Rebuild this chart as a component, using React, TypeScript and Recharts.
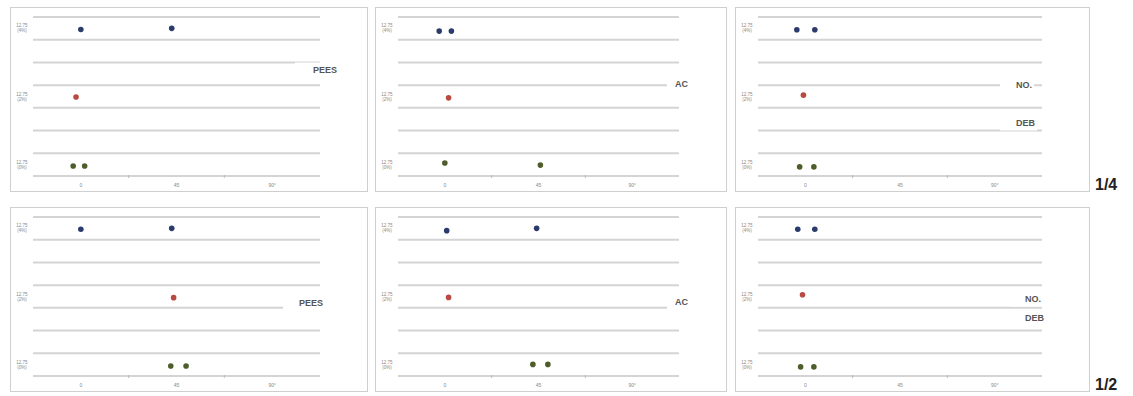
import { ScatterChart, Scatter, XAxis, YAxis, CartesianGrid } from "recharts";

// x: 0..3 (three groups), y: 0..7 (three rows, centred at 0.5 / 3.5 / 6.5)
const xTicks = [0.5, 1, 1.5, 2, 2.5];
const xTickLabels = ["0", "45", "90°"];
const yTicks = [0, 1, 2, 3, 4, 5, 6, 7];
const yTickLabels: Record<number, string[]> = {
  0: ["12.75", "(0%)"],
  3: ["12.75", "(2%)"],
  6: ["12.75", "(4%)"],
};

// 1/4 row
const peesQBlue = [{ x: 0.5, y: 6.45 }, { x: 1.45, y: 6.5 }];
const peesQRed = [{ x: 0.45, y: 3.48 }];
const peesQGreen = [{ x: 0.42, y: 0.44 }, { x: 0.54, y: 0.44 }];

const acQBlue = [{ x: 0.44, y: 6.38 }, { x: 0.57, y: 6.38 }];
const acQRed = [{ x: 0.54, y: 3.44 }];
const acQGreen = [{ x: 0.5, y: 0.57 }, { x: 1.52, y: 0.48 }];

const debQBlue = [{ x: 0.41, y: 6.44 }, { x: 0.6, y: 6.44 }];
const debQRed = [{ x: 0.48, y: 3.56 }];
const debQGreen = [{ x: 0.44, y: 0.4 }, { x: 0.59, y: 0.4 }];

// 1/2 row
const peesHBlue = [{ x: 0.5, y: 6.46 }, { x: 1.45, y: 6.5 }];
const peesHRed = [{ x: 1.47, y: 3.45 }];
const peesHGreen = [{ x: 1.44, y: 0.44 }, { x: 1.6, y: 0.44 }];

const acHBlue = [{ x: 0.52, y: 6.4 }, { x: 1.48, y: 6.5 }];
const acHRed = [{ x: 0.54, y: 3.46 }];
const acHGreen = [{ x: 1.44, y: 0.51 }, { x: 1.6, y: 0.51 }];

const debHBlue = [{ x: 0.42, y: 6.46 }, { x: 0.6, y: 6.46 }];
const debHRed = [{ x: 0.47, y: 3.58 }];
const debHGreen = [{ x: 0.45, y: 0.4 }, { x: 0.59, y: 0.4 }];

const BLUE = "#2b3b6b";
const RED = "#b84a42";
const GREEN = "#4e5e2b";
const GRID = "#d4d4d4";

const CH = 183;
const MT = 9;
const XH = 15;
const halfBand = (CH - MT - XH) / 7 / 2;

const colLeft = [10, 375, 735];
const colWidth = [358, 352, 355];
const rowTop = [7, 207];

const panels = [
  { col: 0, row: 0, blue: peesQBlue, red: peesQRed, green: peesQGreen },
  { col: 1, row: 0, blue: acQBlue, red: acQRed, green: acQGreen },
  { col: 2, row: 0, blue: debQBlue, red: debQRed, green: debQGreen },
  { col: 0, row: 1, blue: peesHBlue, red: peesHRed, green: peesHGreen },
  { col: 1, row: 1, blue: acHBlue, red: acHRed, green: acHGreen },
  { col: 2, row: 1, blue: debHBlue, red: debHRed, green: debHGreen },
];

const sideLabels = [
  { text: "PEES", x: 313, y: 70, pad: 18 },
  { text: "AC", x: 675, y: 84, pad: 8 },
  { text: "NO.", x: 1016, y: 85, pad: 16 },
  { text: "DEB", x: 1016, y: 123, pad: 16 },
  { text: "PEES", x: 299, y: 303, pad: 16 },
  { text: "AC", x: 675, y: 302, pad: 8 },
  { text: "NO.", x: 1025, y: 299, pad: 14 },
  { text: "DEB", x: 1025, y: 318, pad: 14 },
];

const rowLabels = [
  { text: "1/4", x: 1095, y: 185 },
  { text: "1/2", x: 1095, y: 385 },
];

const dot = (color: string) => (p: any) => (
  <circle cx={p.cx} cy={p.cy} r={2.8} fill={color} />
);

const XTick = (p: any) => {
  const v = p.payload.value;
  if (Number.isInteger(v)) {
    return <line x1={p.x} x2={p.x} y1={p.y - 1} y2={p.y + 2} stroke="#bbb" strokeWidth={1} />;
  }
  return (
    <text x={p.x} y={p.y + 11} fontSize={5} fill="#888" textAnchor="middle">
      {xTickLabels[Math.floor(v)]}
    </text>
  );
};

const YTick = (p: any) => {
  const lab = yTickLabels[p.payload.value];
  if (!lab) return <g />;
  const cy = p.y - halfBand;
  return (
    <text x={p.x - 11} y={cy} fontSize={4.5} fill="#888" textAnchor="middle">
      <tspan x={p.x - 11} dy={-1}>{lab[0]}</tspan>
      <tspan x={p.x - 11} dy={5}>{lab[1]}</tspan>
    </text>
  );
};

function Panel({ col, row, blue, red, green }: any) {
  const w = colWidth[col];
  return (
    <div
      style={{
        position: "absolute",
        left: colLeft[col],
        top: rowTop[row],
        width: w,
        height: 185,
        border: "1px solid #cfcfcf",
        boxSizing: "border-box",
        background: "#fff",
      }}
    >
      <ScatterChart width={w - 2} height={CH} margin={{ top: MT, right: 47, left: 0, bottom: 0 }}>
        <CartesianGrid vertical={false} stroke={GRID} strokeWidth={2} />
        <XAxis
          type="number"
          dataKey="x"
          domain={[0, 3]}
          ticks={xTicks}
          interval={0}
          tick={<XTick />}
          tickLine={false}
          tickSize={0}
          tickMargin={0}
          axisLine={false}
          height={XH}
        />
        <YAxis
          type="number"
          dataKey="y"
          domain={[0, 7]}
          ticks={yTicks}
          interval={0}
          tick={<YTick />}
          tickLine={false}
          tickSize={0}
          tickMargin={0}
          axisLine={false}
          width={22}
        />
        <Scatter data={blue} shape={dot(BLUE)} isAnimationActive={false} />
        <Scatter data={red} shape={dot(RED)} isAnimationActive={false} />
        <Scatter data={green} shape={dot(GREEN)} isAnimationActive={false} />
      </ScatterChart>
    </div>
  );
}

export default function App() {
  return (
    <div
      style={{
        position: "absolute",
        left: 0,
        top: 0,
        width: 1133,
        height: 396,
        background: "#fff",
        fontFamily: "Arial, 'Liberation Sans', sans-serif",
      }}
    >
      {panels.map((p, i) => (
        <Panel key={i} {...p} />
      ))}
      {sideLabels.map((l, i) => (
        <div
          key={"s" + i}
          style={{
            position: "absolute",
            left: l.x - l.pad,
            top: l.y,
            transform: "translateY(-50%)",
            fontSize: 9,
            fontWeight: 600,
            color: "#555",
            lineHeight: 1,
            background: "#fff",
            padding: `3px 2px 3px ${l.pad}px`,
          }}
        >
          {l.text}
        </div>
      ))}
      {rowLabels.map((l, i) => (
        <div
          key={"r" + i}
          style={{
            position: "absolute",
            left: l.x,
            top: l.y,
            transform: "translateY(-50%)",
            fontSize: 16,
            fontWeight: 700,
            color: "#222",
            lineHeight: 1,
          }}
        >
          {l.text}
        </div>
      ))}
    </div>
  );
}
